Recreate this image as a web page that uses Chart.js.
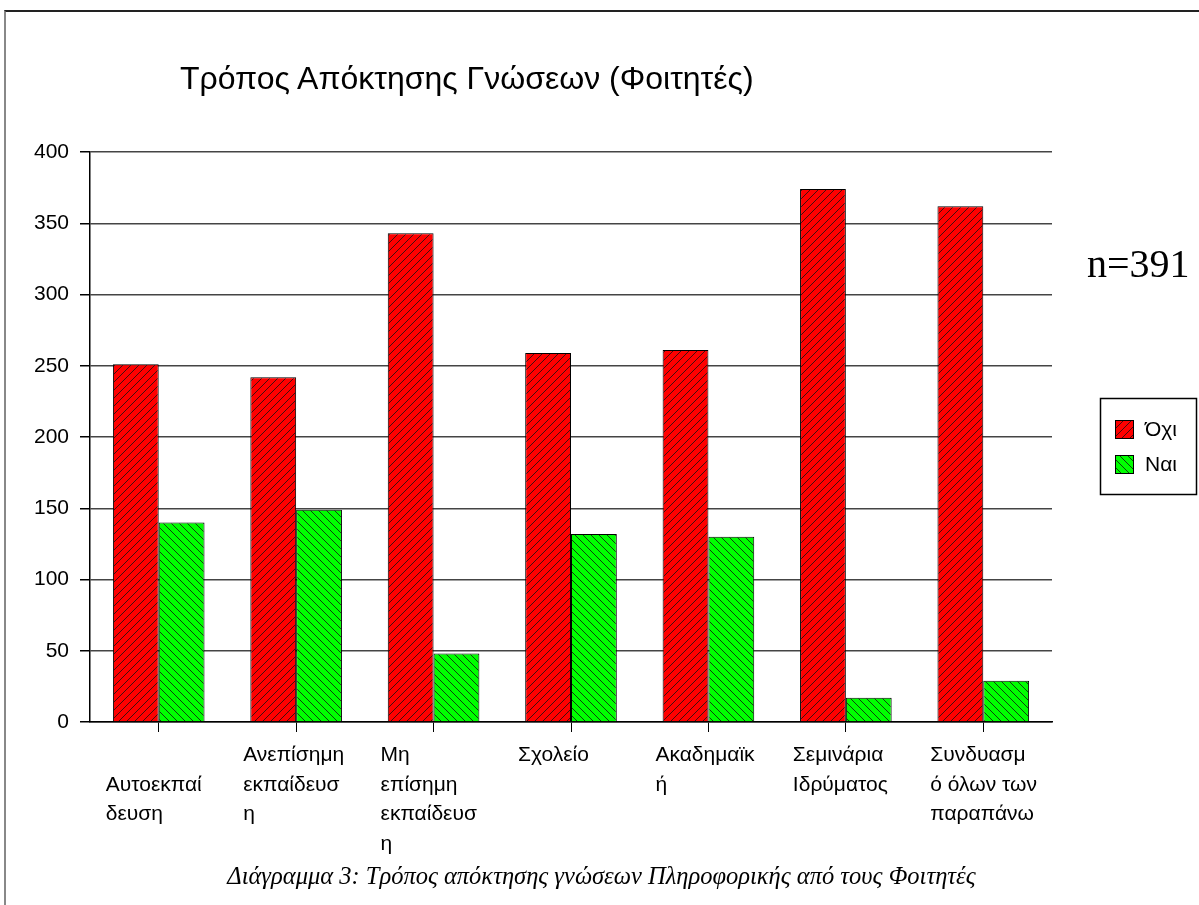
<!DOCTYPE html>
<html>
<head>
<meta charset="utf-8">
<script src="https://cdn.jsdelivr.net/npm/chart.js@4.4.1/dist/chart.umd.min.js"></script>
<style>
  body { margin: 0; background: #fff; }
  #wrap { position: relative; width: 1199px; height: 905px; overflow: hidden; }
  #frame { position: absolute; left: 4px; top: 10px; width: 1300px; height: 1000px; border-top: 2px solid #222; border-left: 2px solid #888; }
  .txt { position: absolute; white-space: nowrap; color: #000; }
  #title { left: 180px; top: 60px; font: 32px "Liberation Sans", Arial, sans-serif; }
  #nval { left: 1087px; top: 240px; font: 40px "Liberation Serif", serif; }
  #caption { left: 0; width: 1203px; text-align: center; top: 862px; font: italic 24.5px "Liberation Serif", serif; }
  canvas { position: absolute; left: 0; top: 0; }
</style>
</head>
<body>
<div id="wrap">
  <div id="frame"></div>
  <canvas id="chart" width="1199" height="905"></canvas>
  <div class="txt" id="title">Τρόπος Απόκτησης Γνώσεων (Φοιτητές)</div>
  <div class="txt" id="nval">n=391</div>
  <div class="txt" id="caption">Διάγραμμα 3: Τρόπος απόκτησης γνώσεων Πληροφορικής από τους Φοιτητές</div>
</div>
<script>
// categories (wrapped the way the original shows them)
const categories = [
  ['', 'Αυτοεκπαί', 'δευση'],
  ['Ανεπίσημη', 'εκπαίδευσ', 'η'],
  ['Μη', 'επίσημη', 'εκπαίδευσ', 'η'],
  ['Σχολείο'],
  ['Ακαδημαϊκ', 'ή'],
  ['Σεμινάρια', 'Ιδρύματος'],
  ['Συνδυασμ', 'ό όλων των', 'παραπάνω']
];
const seriesNames = ['Όχι', 'Ναι'];
const noValues = [251, 242, 343, 259, 261, 374, 362];
const yesValues = [140, 149, 48, 132, 130, 17, 29];
const yMin = 0;
const yMax = 400;
const yStep = 50;

// hatch fill: dir 1 = "/", dir -1 = "\"
function hatch(color, dir) {
  const size = 8;
  const c = document.createElement('canvas');
  c.width = size;
  c.height = size;
  const g = c.getContext('2d');
  g.fillStyle = color;
  g.fillRect(0, 0, size, size);
  g.strokeStyle = '#111';
  g.lineWidth = 0.8;
  g.beginPath();
  if (dir > 0) {
    g.moveTo(-1, size + 1); g.lineTo(size + 1, -1);
    g.moveTo(-1, 1); g.lineTo(1, -1);
    g.moveTo(size - 1, size + 1); g.lineTo(size + 1, size - 1);
  } else {
    g.moveTo(-1, -1); g.lineTo(size + 1, size + 1);
    g.moveTo(size - 1, -1); g.lineTo(size + 1, 1);
    g.moveTo(-1, size - 1); g.lineTo(1, size + 1);
  }
  g.stroke();
  return g.createPattern(c, 'repeat');
}

const font = { family: '"Liberation Sans", Arial, sans-serif', size: 21 };

// legend box on the right
const legendBox = {
  id: 'legendBox',
  afterDraw(chart) {
    const ctx = chart.ctx;
    ctx.save();
    ctx.fillStyle = '#fff';
    ctx.fillRect(1100, 398, 97, 97);
    ctx.strokeStyle = '#000';
    ctx.lineWidth = 1.5;
    ctx.strokeRect(1100.5, 398.5, 96, 96);
    chart.data.datasets.forEach((ds, i) => {
      const y = 429 + i * 35;
      ctx.fillStyle = ds.backgroundColor;
      ctx.fillRect(1115, y - 9, 19, 19);
      ctx.strokeStyle = '#000';
      ctx.lineWidth = 1;
      ctx.strokeRect(1115.5, y - 8.5, 18, 18);
      ctx.fillStyle = '#000';
      ctx.font = '21px "Liberation Sans", Arial, sans-serif';
      ctx.textBaseline = 'middle';
      ctx.fillText(ds.label, 1145, y + 1);
    });
    ctx.restore();
  }
};

const ctx = document.getElementById('chart').getContext('2d');
new Chart(ctx, {
  type: 'bar',
  data: {
    labels: categories,
    datasets: [
      {
        label: seriesNames[0],
        data: noValues,
        backgroundColor: hatch('#ff0000', 1),
        borderColor: '#000',
        borderWidth: 1,
      },
      {
        label: seriesNames[1],
        data: yesValues,
        backgroundColor: hatch('#00ff00', -1),
        borderColor: '#000',
        borderWidth: 1,
      },
    ],
  },
  options: {
    responsive: false,
    animation: false,
    devicePixelRatio: 1,
    layout: { padding: { left: 30, top: 152, right: 147, bottom: 0 } },
    datasets: { bar: { categoryPercentage: 2 / 3, barPercentage: 1 } },
    plugins: {
      legend: { display: false },
      title: { display: false },
      tooltip: { enabled: false },
    },
    scales: {
      x: {
        grid: { offset: false, drawOnChartArea: false, tickLength: 10, color: '#000', lineWidth: 1 },
        border: { color: '#000', width: 1.5 },
        ticks: {
          color: '#000',
          font: { ...font, lineHeight: 1.4 },
          align: 'start',
          labelOffset: -53,
          padding: 9,
          maxRotation: 0,
          autoSkip: false,
        },
        afterFit: (s) => { s.height = 183; },
      },
      y: {
        min: yMin,
        max: yMax,
        grid: { color: '#444', lineWidth: 1.5, tickLength: 10, tickColor: '#000' },
        border: { color: '#000', width: 1.5 },
        ticks: { stepSize: yStep, color: '#000', font: font, padding: 11 },
        afterFit: (s) => { s.width = 60; },
      },
    },
  },
  plugins: [legendBox],
});
</script>
</body>
</html>
